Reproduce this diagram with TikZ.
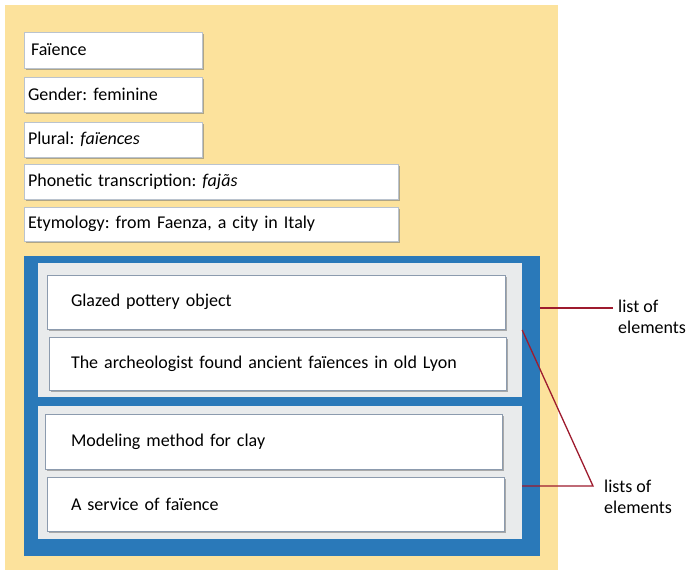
\documentclass[tikz,border=0pt]{standalone}
\usepackage{fontspec}
\setmainfont{Carlito}
\usetikzlibrary{shadows}
\frenchspacing
\definecolor{sand}{HTML}{FCE29C}
\definecolor{deepblue}{HTML}{2A79B9}
\definecolor{panelgray}{HTML}{E9EBEC}
\definecolor{edgegray}{HTML}{8C9BAE}
\definecolor{wine}{HTML}{9E1B2E}
\tikzset{
  wbox/.style={draw=edgegray!60, line width=0.6pt, fill=white, align=left,
    inner ysep=0pt, font=\fontsize{18}{20}\selectfont,
    drop shadow={shadow xshift=1.6pt, shadow yshift=-1.8pt, fill=black!55, opacity=0.55}},
  lbox/.style={wbox, draw=edgegray},
  panel/.style={fill=panelgray, draw=none, inner sep=0pt},
  callout/.style={draw=wine, line width=1.3pt},
  note/.style={align=left, inner sep=0pt, font=\fontsize{18}{21}\selectfont, anchor=west}
}
\begin{document}
\begin{tikzpicture}[x=1pt,y=-1pt]
\useasboundingbox (0,0) rectangle (689,574);
\fill[white] (0,0) rectangle (689,574);
% sand-coloured card
\node[fill=sand, inner sep=0pt, minimum width=553pt, minimum height=565pt] (card) at (281.5,287.5) {};
% header entries
\node[wbox, minimum width=178pt, minimum height=36pt, inner xsep=7pt, text width=164pt] (fai) at (113,50) {Faïence};
\node[wbox, minimum width=178pt, minimum height=35pt, inner xsep=4pt, text width=170pt] (gen) at (113,94.5) {Gender: feminine};
\node[wbox, minimum width=178pt, minimum height=35pt, inner xsep=4pt, text width=170pt] (plu) at (113,139.5) {Plural: \textit{faïences}};
\node[wbox, minimum width=374pt, minimum height=35pt, inner xsep=4pt, text width=366pt] (pho) at (211,181.5) {Phonetic transcription: \textit{fajãs}};
\node[wbox, minimum width=374pt, minimum height=34pt, inner xsep=4pt, text width=366pt] (ety) at (211,224) {Etymology: from Faenza, a city in Italy};
% blue frame holding the two lists
\node[fill=deepblue, inner sep=0pt, minimum width=516pt, minimum height=300pt] (frame) at (282,406) {};
\node[panel, minimum width=484.5pt, minimum height=134pt] (p1) at (279.75,330) {};
\node[panel, minimum width=484.5pt, minimum height=133pt] (p2) at (279.75,472.5) {};
\node[lbox, minimum width=458pt, minimum height=54pt, inner xsep=24pt, text width=410pt] (gla) at (276,302) {Glazed pottery object};
\node[lbox, minimum width=457pt, minimum height=53pt, inner xsep=22pt, text width=413pt] (arc) at (277.5,363.5) {The archeologist found ancient faïences in old Lyon};
\node[lbox, minimum width=457pt, minimum height=55pt, inner xsep=26pt, text width=405pt] (mod) at (273.5,441.5) {Modeling method for clay};
\node[lbox, minimum width=457pt, minimum height=54pt, inner xsep=24pt, text width=409pt] (ser) at (275.5,504) {A service of faïence};
% callouts
\coordinate (c1) at (frame.east |- 0,308);
\coordinate (c1e) at (613,308);
\coordinate (c2) at (p1.east |- 0,330);
\coordinate (c3) at (p2.east |- 0,486);
\coordinate (c4) at (593,486);
\draw[callout] (c1) -- (c1e);
\draw[callout] (c2) -- (c4) -- (c3);
\node[note] (lbl1) at (618,317) {list of\\elements};
\node[note] (lbl2) at (604,497) {lists of\\elements};
\end{tikzpicture}
\end{document}
